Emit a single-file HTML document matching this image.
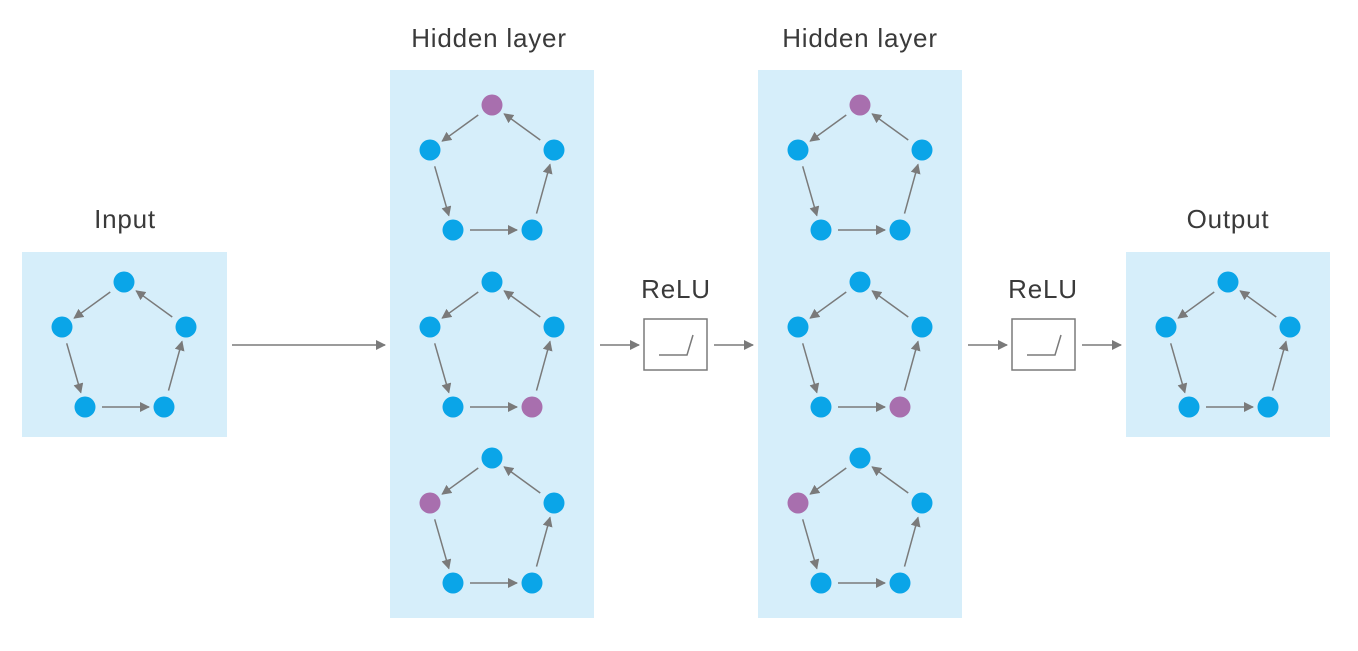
<!DOCTYPE html>
<html><head><meta charset="utf-8"><style>
html,body{margin:0;padding:0;background:#fff;}
svg{display:block;}
text{font-family:"Liberation Sans",sans-serif;font-size:26px;letter-spacing:0.8px;fill:#3a3a3a;text-anchor:middle;}
</style></head><body>
<svg id="s" width="1358" height="651" viewBox="0 0 1358 651" xmlns="http://www.w3.org/2000/svg">
<defs>
<marker id="a" viewBox="0 0 10 10" refX="9" refY="5" markerWidth="10" markerHeight="10" markerUnits="userSpaceOnUse" orient="auto">
<path d="M0,0 L10,5 L0,10 z" fill="#7a7a7a"/></marker>
</defs>
<rect x="22" y="252" width="205" height="185" fill="#d6eefa"/>
<rect x="390" y="70" width="204" height="548" fill="#d6eefa"/>
<rect x="758" y="70" width="204" height="548" fill="#d6eefa"/>
<rect x="1126" y="252" width="204" height="185" fill="#d6eefa"/>
<text x="125" y="228">Input</text>
<text x="489" y="47">Hidden layer</text>
<text x="860" y="47">Hidden layer</text>
<text x="676" y="298">ReLU</text>
<text x="1043" y="298">ReLU</text>
<text x="1228" y="228">Output</text>
<g stroke="#7a7a7a" stroke-width="1.5" fill="none">
<line x1="232" y1="345" x2="385" y2="345" marker-end="url(#a)"/>
<line x1="600" y1="345" x2="639" y2="345" marker-end="url(#a)"/>
<line x1="714" y1="345" x2="753" y2="345" marker-end="url(#a)"/>
<line x1="968" y1="345" x2="1007" y2="345" marker-end="url(#a)"/>
<line x1="1082" y1="345" x2="1121" y2="345" marker-end="url(#a)"/>
<rect x="644" y="319" width="63" height="51" fill="#fff"/>
<rect x="1012" y="319" width="63" height="51" fill="#fff"/>
<polyline points="659,355 687,355 693,335"/>
<polyline points="1027,355 1055,355 1061,335"/>
</g>
<g id="g"></g>
</svg>
<script>
var base=[[124,282],[62,327],[85,407],[164,407],[186,327]];
var P=[[0,0,-1],[368,-177,0],[368,0,3],[368,176,1],[736,-177,0],[736,0,3],[736,176,1],[1104,0,-1]];
var g=document.getElementById('g'),h='';
P.forEach(function(p){
 var pts=base.map(function(b){return [b[0]+p[0],b[1]+p[1]];});
 for(var i=0;i<5;i++){var a=pts[i],b=pts[(i+1)%5];
  var dx=b[0]-a[0],dy=b[1]-a[1],L=Math.hypot(dx,dy),ux=dx/L,uy=dy/L,s=17,e=15;
  h+='<line x1="'+(a[0]+ux*s)+'" y1="'+(a[1]+uy*s)+'" x2="'+(b[0]-ux*e)+'" y2="'+(b[1]-uy*e)+'" stroke="#7a7a7a" stroke-width="1.5" marker-end="url(#a)"/>';}
 pts.forEach(function(q,i){h+='<circle cx="'+q[0]+'" cy="'+q[1]+'" r="10.5" fill="'+(i==p[2]?'#a86fae':'#0aa5e8')+'"/>';});
});
g.innerHTML=h;
</script>
</body></html>
